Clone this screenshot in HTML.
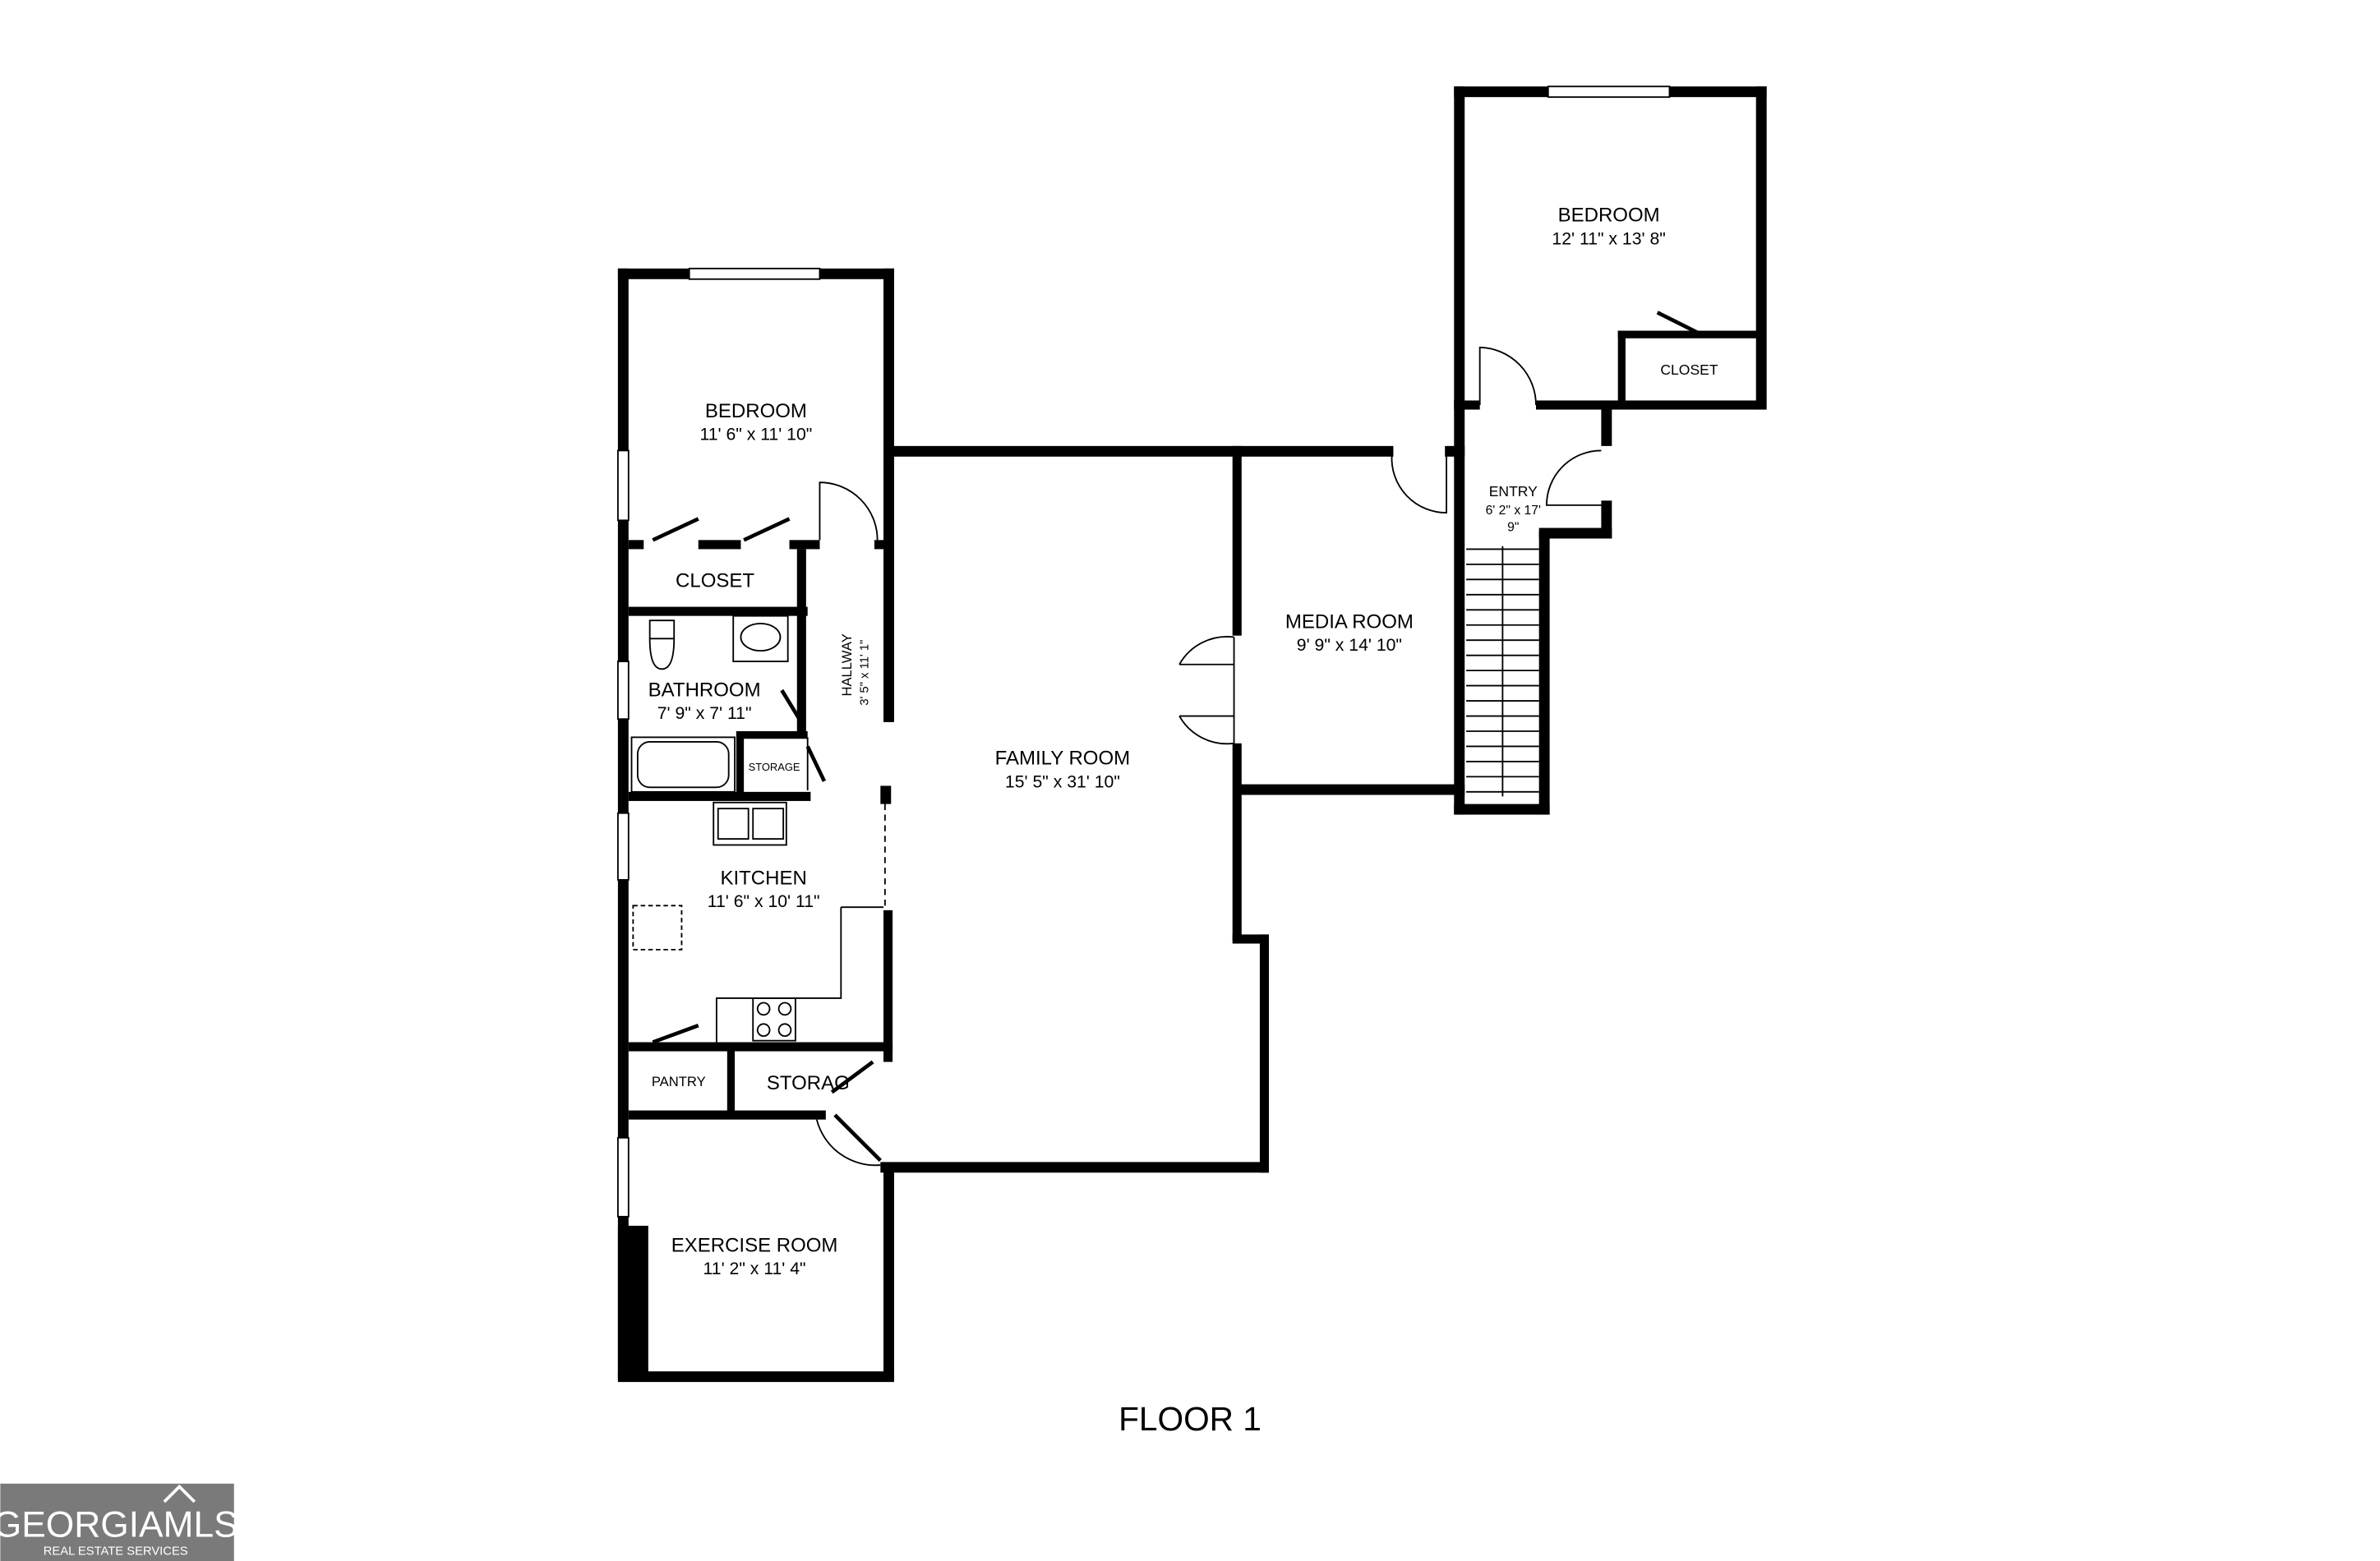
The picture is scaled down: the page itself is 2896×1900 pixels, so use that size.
<!DOCTYPE html>
<html><head><meta charset="utf-8"><style>
html,body{margin:0;padding:0;background:#fff;}
svg{display:block;}
text{font-family:"Liberation Sans",sans-serif;fill:#000;}
</style></head><body>
<svg width="2896" height="1900" viewBox="0 0 1568 1029" xmlns="http://www.w3.org/2000/svg">
<rect width="1568" height="1029" fill="#fff"/>
<g fill="#000">
<!-- left wing outer -->
<rect x="407" y="177" width="7" height="733"/>
<rect x="407" y="177" width="182" height="7"/>
<rect x="582" y="177" width="7" height="299"/>
<rect x="580" y="518" width="7" height="12"/>
<rect x="582" y="600" width="6" height="100"/>
<rect x="582" y="768" width="7" height="142"/>
<rect x="407" y="904" width="182" height="7"/>
<rect x="407" y="808" width="20" height="100"/>
<!-- left interior -->
<rect x="414" y="356" width="10" height="6"/>
<rect x="460" y="356" width="28" height="6"/>
<rect x="520" y="356" width="20" height="6"/>
<rect x="576" y="356" width="10" height="6"/>
<rect x="414" y="400" width="118" height="6"/>
<rect x="525" y="362" width="6" height="120"/>
<rect x="485" y="482" width="47" height="5"/>
<rect x="485" y="482" width="5" height="45"/>
<rect x="414" y="522" width="120" height="6"/>
<rect x="414" y="687" width="174" height="6"/>
<rect x="479" y="690" width="5" height="46"/>
<rect x="414" y="732" width="130" height="6"/>
<!-- family room -->
<rect x="586" y="294" width="332" height="7"/>
<rect x="812" y="294" width="6" height="125"/>
<rect x="812" y="490" width="6" height="130"/>
<rect x="812" y="616" width="24" height="6"/>
<rect x="830" y="616" width="6" height="157"/>
<rect x="580" y="766" width="256" height="7"/>
<!-- media room -->
<rect x="815" y="517" width="150" height="7"/>
<rect x="952" y="294" width="13" height="7"/>
<!-- stairs / entry -->
<rect x="958" y="57" width="7" height="480"/>
<rect x="1014" y="350" width="7" height="187"/>
<rect x="958" y="530" width="63" height="7"/>
<rect x="1014" y="348" width="48" height="7"/>
<rect x="1055" y="264" width="7" height="30"/>
<rect x="1055" y="330" width="7" height="25"/>
<rect x="958" y="264" width="17" height="6"/>
<rect x="1012" y="264" width="151" height="6"/>
<!-- top bedroom -->
<rect x="958" y="57" width="206" height="7"/>
<rect x="1157" y="57" width="7" height="213"/>
<rect x="1066" y="218" width="96" height="5"/>
<rect x="1066" y="218" width="5" height="50"/>
</g>
<!-- windows -->
<g fill="#fff" stroke="#000" stroke-width="1">
<rect x="454" y="177" width="86" height="7"/>
<rect x="1020" y="57" width="80" height="7"/>
<rect x="407" y="297" width="7" height="46"/>
<rect x="407" y="436" width="7" height="38"/>
<rect x="407" y="536" width="7" height="44"/>
<rect x="407" y="750" width="7" height="52"/>
</g>
<!-- fixtures -->
<g fill="none" stroke="#000" stroke-width="1">
<rect x="483" y="406" width="36" height="30"/>
<ellipse cx="501" cy="420" rx="13" ry="9"/>
<path d="M428 409 h16 v12 h-16z M428 421 q0 20 8 20 q8 0 8 -20"/>
<rect x="416" y="486" width="68" height="36"/>
<rect x="420" y="489" width="60" height="30" rx="8"/>
<rect x="470" y="529" width="48" height="28"/>
<rect x="473" y="533" width="20" height="20"/><rect x="496" y="533" width="20" height="20"/>
<rect x="417" y="597" width="32" height="29" stroke-dasharray="3,2"/>
<path d="M554 598 h28 M554 598 v60 h-82 v30"/>
<rect x="496" y="658" width="28" height="28"/>
<circle cx="503" cy="665" r="4"/><circle cx="517" cy="665" r="4"/><circle cx="503" cy="679" r="4"/><circle cx="517" cy="679" r="4"/>
<path d="M583 530 v68" stroke-dasharray="4,3"/>
<!-- stairs -->
<path d="M966 362 h48 M966 372 h48 M966 382 h48 M966 392 h48 M966 402 h48 M966 412 h48 M966 422 h48 M966 432 h48 M966 442 h48 M966 452 h48 M966 462 h48 M966 472 h48 M966 482 h48 M966 492 h48 M966 502 h48 M966 512 h48 M966 522 h48 M990 360 v165"/>
<!-- door arcs -->
<path d="M540 356 v-38 a38 38 0 0 1 38 38"/>
<path d="M975 267 v-38 a38 38 0 0 1 37 38"/>
<path d="M917 300 a36 36 0 0 0 36 38 v-38"/>
<path d="M1055 297 a36 36 0 0 0 -36 36 h36"/>
<path d="M813 420 a36 36 0 0 0 -36 18 M813 490 a36 36 0 0 1 -36 -18 M813 420 v70"/>
<path d="M777 438 h36 M777 472 h36"/>
<path d="M580 768 a40 40 0 0 1 -42 -30"/>
<path d="M528 440 v38 M532 486 v35"/>
</g>
<g stroke="#000" stroke-width="2.5">
<line x1="430" y1="356" x2="460" y2="342"/>
<line x1="490" y1="356" x2="520" y2="342"/>
<line x1="1092" y1="206" x2="1120" y2="220"/>
<line x1="430" y1="687" x2="460" y2="676"/>
<line x1="550" y1="735" x2="580" y2="765"/>
<line x1="548" y1="720" x2="575" y2="700"/>
<line x1="515" y1="455" x2="529" y2="478"/>
<line x1="532" y1="492" x2="543" y2="515"/>
</g>
<g font-size="13">
<text x="498" y="275" text-anchor="middle">BEDROOM</text>
<text x="498" y="290" text-anchor="middle" font-size="11.5">11' 6" x 11' 10"</text>
<text x="471" y="387" text-anchor="middle">CLOSET</text>
<text x="464" y="459" text-anchor="middle">BATHROOM</text>
<text x="464" y="474" text-anchor="middle" font-size="11.5">7' 9" x 7' 11"</text>
<text x="510" y="508" text-anchor="middle" font-size="7">STORAGE</text>
<text transform="translate(561,459) rotate(-90)" font-size="9">HALLWAY</text>
<text transform="translate(572,465) rotate(-90)" font-size="8">3' 5" x 11' 1"</text>
<text x="503" y="583" text-anchor="middle">KITCHEN</text>
<text x="503" y="598" text-anchor="middle" font-size="11.5">11' 6" x 10' 11"</text>
<text x="447" y="716" text-anchor="middle" font-size="9">PANTRY</text>
<text x="505" y="718" font-size="13">STORAG</text>
<text x="497" y="825" text-anchor="middle">EXERCISE ROOM</text>
<text x="497" y="840" text-anchor="middle" font-size="11.5">11' 2" x 11' 4"</text>
<text x="700" y="504" text-anchor="middle">FAMILY ROOM</text>
<text x="700" y="519" text-anchor="middle" font-size="11.5">15' 5" x 31' 10"</text>
<text x="889" y="414" text-anchor="middle">MEDIA ROOM</text>
<text x="889" y="429" text-anchor="middle" font-size="11.5">9' 9" x 14' 10"</text>
<text x="997" y="327" text-anchor="middle" font-size="9.5">ENTRY</text>
<text x="997" y="339" text-anchor="middle" font-size="8.5">6' 2" x 17'</text>
<text x="997" y="350" text-anchor="middle" font-size="8.5">9"</text>
<text x="1060" y="146" text-anchor="middle">BEDROOM</text>
<text x="1060" y="161" text-anchor="middle" font-size="11.5">12' 11" x 13' 8"</text>
<text x="1113" y="247" text-anchor="middle" font-size="9.5">CLOSET</text>
<text x="784" y="943" text-anchor="middle" font-size="22">FLOOR 1</text>
</g>
<rect x="0" y="978" width="154" height="51" fill="#7a7a7a"/>
<path d="M108 990 l10 -10 l10 10" stroke="#fff" stroke-width="2" fill="none"/>
<text x="76" y="1013" text-anchor="middle" font-size="24" style="fill:#fff">GEORGIAMLS</text>
<text x="76" y="1025" text-anchor="middle" font-size="8" style="fill:#fff">REAL ESTATE SERVICES</text>
</svg>
</body></html>
